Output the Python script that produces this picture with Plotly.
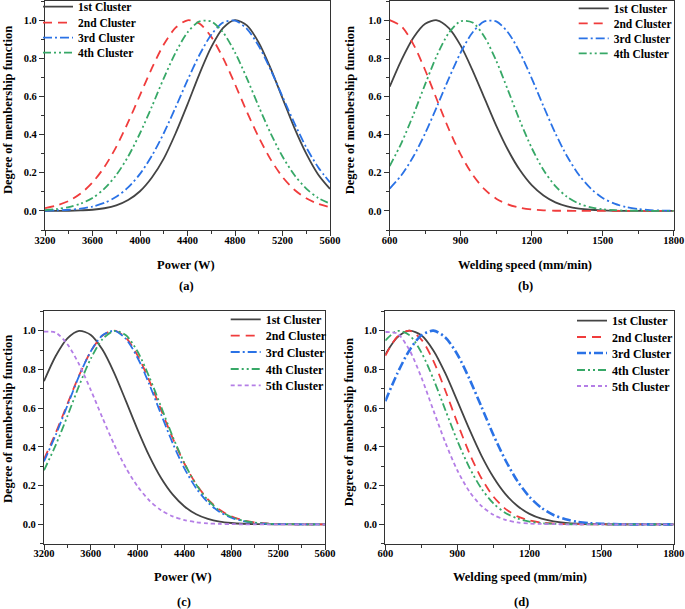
import plotly.graph_objects as go

# ---------------- data ----------------
power_w = [3200, 3300, 3400, 3500, 3600, 3700, 3800, 3900, 4000, 4100, 4200, 4300, 4400,
           4500, 4600, 4700, 4800, 4900, 5000, 5100, 5200, 5300, 5400, 5500, 5600]
speed_mm = [600, 650, 700, 750, 800, 850, 900, 950, 1000, 1050, 1100, 1150, 1200,
            1250, 1300, 1350, 1400, 1450, 1500, 1550, 1600, 1650, 1700, 1750, 1800]

names4 = ["1st Cluster", "2nd Cluster", "3rd Cluster", "4th Cluster"]
names5 = ["1st Cluster", "2nd Cluster", "3rd Cluster", "4th Cluster", "5th Cluster"]

# (a) power, 4 clusters
a1 = [0.000, 0.000, 0.001, 0.003, 0.006, 0.014, 0.029, 0.057, 0.103, 0.175, 0.274, 0.407, 0.558,
      0.717, 0.858, 0.959, 1.000, 0.972, 0.882, 0.747, 0.591, 0.435, 0.300, 0.191, 0.115]
a2 = [0.015, 0.029, 0.052, 0.091, 0.149, 0.230, 0.336, 0.465, 0.607, 0.748, 0.872, 0.960, 0.999,
      0.982, 0.912, 0.801, 0.664, 0.520, 0.386, 0.270, 0.178, 0.111, 0.066, 0.037, 0.019]
a3 = [0.001, 0.003, 0.006, 0.012, 0.023, 0.042, 0.074, 0.123, 0.194, 0.289, 0.407, 0.543, 0.685,
      0.817, 0.923, 0.987, 0.997, 0.954, 0.864, 0.740, 0.599, 0.460, 0.333, 0.229, 0.149]
a4 = [0.004, 0.010, 0.020, 0.038, 0.068, 0.117, 0.188, 0.285, 0.407, 0.547, 0.695, 0.830, 0.935,
      0.993, 0.993, 0.935, 0.830, 0.695, 0.547, 0.407, 0.285, 0.188, 0.117, 0.068, 0.038]

# (b) welding speed, 4 clusters
b1 = [0.651, 0.792, 0.908, 0.981, 0.999, 0.958, 0.866, 0.737, 0.592, 0.447, 0.319, 0.214, 0.135,
      0.081, 0.045, 0.024, 0.012, 0.006, 0.003, 0.001, 0.0, 0.0, 0.0, 0.0, 0.0]
b2 = [1.000, 0.967, 0.873, 0.737, 0.581, 0.428, 0.295, 0.190, 0.114, 0.064, 0.034, 0.017, 0.008,
      0.003, 0.001, 0.001, 0.0, 0.0, 0.0, 0.0, 0.0, 0.0, 0.0, 0.0, 0.0]
b3 = [0.117, 0.188, 0.285, 0.407, 0.548, 0.695, 0.830, 0.935, 0.993, 0.993, 0.935, 0.830, 0.695,
      0.548, 0.407, 0.285, 0.188, 0.117, 0.068, 0.038, 0.020, 0.010, 0.004, 0.002, 0.001]
b4 = [0.235, 0.357, 0.504, 0.664, 0.816, 0.933, 0.994, 0.987, 0.913, 0.787, 0.632, 0.473, 0.330,
      0.214, 0.130, 0.073, 0.038, 0.019, 0.009, 0.004, 0.001, 0.001, 0.0, 0.0, 0.0]

# (c) power, 5 clusters
c1 = [0.739, 0.869, 0.960, 0.999, 0.978, 0.901, 0.781, 0.636, 0.488, 0.352, 0.239, 0.153, 0.092,
      0.052, 0.028, 0.014, 0.007, 0.003, 0.001, 0.001, 0.0, 0.0, 0.0, 0.0, 0.0]
c2 = [0.337, 0.472, 0.622, 0.769, 0.893, 0.975, 1.000, 0.963, 0.871, 0.741, 0.591, 0.444, 0.313,
      0.207, 0.129, 0.075, 0.041, 0.021, 0.010, 0.005, 0.002, 0.001, 0.0, 0.0, 0.0]
c3 = [0.325, 0.461, 0.614, 0.766, 0.894, 0.976, 0.999, 0.957, 0.859, 0.722, 0.568, 0.418, 0.288,
      0.186, 0.113, 0.064, 0.034, 0.017, 0.008, 0.003, 0.001, 0.001, 0.0, 0.0, 0.0]
c4 = [0.279, 0.409, 0.559, 0.716, 0.856, 0.956, 0.999, 0.976, 0.891, 0.760, 0.607, 0.452, 0.315,
      0.205, 0.125, 0.071, 0.038, 0.019, 0.009, 0.004, 0.002, 0.001, 0.0, 0.0, 0.0]
c5 = [0.995, 0.990, 0.930, 0.826, 0.693, 0.549, 0.411, 0.291, 0.195, 0.123, 0.073, 0.041, 0.022,
      0.011, 0.005, 0.002, 0.001, 0.0, 0.0, 0.0, 0.0, 0.0, 0.0, 0.0, 0.0]

# (d) welding speed, 5 clusters
d1 = [0.877, 0.965, 1.000, 0.976, 0.898, 0.779, 0.636, 0.490, 0.355, 0.243, 0.156, 0.095, 0.054,
      0.029, 0.015, 0.007, 0.003, 0.001, 0.001, 0.0, 0.0, 0.0, 0.0, 0.0, 0.0]
d2 = [0.870, 0.969, 1.000, 0.954, 0.844, 0.690, 0.523, 0.367, 0.238, 0.143, 0.080, 0.041, 0.020,
      0.009, 0.004, 0.001, 0.001, 0.0, 0.0, 0.0, 0.0, 0.0, 0.0, 0.0, 0.0]
d3 = [0.636, 0.779, 0.898, 0.976, 1.000, 0.965, 0.877, 0.751, 0.607, 0.461, 0.331, 0.223, 0.142,
      0.085, 0.048, 0.026, 0.013, 0.006, 0.003, 0.001, 0.0, 0.0, 0.0, 0.0, 0.0]
d4 = [0.949, 0.999, 0.977, 0.888, 0.751, 0.590, 0.431, 0.293, 0.185, 0.108, 0.059, 0.030, 0.014,
      0.006, 0.003, 0.001, 0.0, 0.0, 0.0, 0.0, 0.0, 0.0, 0.0, 0.0, 0.0]
d5 = [0.993, 0.985, 0.901, 0.759, 0.589, 0.422, 0.278, 0.169, 0.095, 0.049, 0.023, 0.010, 0.004,
      0.002, 0.001, 0.0, 0.0, 0.0, 0.0, 0.0, 0.0, 0.0, 0.0, 0.0, 0.0]

panel_labels = ["(a)", "(b)", "(c)", "(d)"]
x_titles = ["Power (W)", "Welding speed (mm/min)", "Power (W)", "Welding speed (mm/min)"]
y_title = "Degree of membership function"

# ---------------- styles ----------------
FONT = "Times New Roman, Liberation Serif, serif"
W, H = 685, 609
colors = ["#444444", "#f03c3c", "#2a72e6", "#37a867", "#b47ee6"]
dashes = ["solid", "9px,6px", "9px,3px,2px,3px", "8px,3px,2px,3px,2px,3px", "4px,3px"]
LEG_TEXT_OFFSET = 40  # px from legend box left edge to entry text


def px_x(p):
    return p / W


def px_y(p):
    return 1 - p / H


fig = go.Figure()

panels = [
    ("x", "y", power_w, [a1, a2, a3, a4], names4, [1.8] * 4, 78, [6.7, 22.7, 37.7, 52.7], 11.5),
    ("x2", "y2", speed_mm, [b1, b2, b3, b4], names4, [1.8] * 4, 613.7, [8.3, 23.3, 38.3, 53.3], 11.5),
    ("x3", "y3", power_w, [c1, c2, c3, c4, c5], names5, [1.8] * 5, 265.7,
     [319.3, 335.7, 352, 369, 385.3], 12),
    ("x4", "y4", speed_mm, [d1, d2, d3, d4, d5], names5, [1.8, 1.8, 2.6, 1.8, 1.8], 612,
     [320.7, 337, 353, 370, 386], 12),
]

legends = {}
k = 0
for xa, ya, xs, series, names, widths, lx, rows, fs in panels:
    for i, (ys, nm) in enumerate(zip(series, names)):
        k += 1
        lg = "legend" if k == 1 else f"legend{k}"
        fig.add_trace(go.Scatter(
            x=xs, y=ys, name=nm, mode="lines", xaxis=xa, yaxis=ya, legend=lg,
            line=dict(color=colors[i], dash=dashes[i], width=widths[i], shape="spline", smoothing=0.8),
        ))
        legends[lg] = dict(
            bgcolor="rgba(0,0,0,0)", borderwidth=0, xanchor="left", yanchor="middle",
            x=px_x(lx - LEG_TEXT_OFFSET), y=px_y(rows[i]),
            font=dict(family=FONT, size=fs, color="black", weight="bold"),
        )

axis_common = dict(
    showline=True, linecolor="#333333", linewidth=1.3, mirror=True,
    ticks="outside", ticklen=5, tickwidth=1.2, tickcolor="#333333",
    showgrid=False, zeroline=False,
    tickfont=dict(family=FONT, size=10.5, color="black", weight="bold"),
)


def xaxis(domain, rng, dt, anchor):
    return dict(axis_common, domain=domain, range=rng, tick0=rng[0], dtick=dt, anchor=anchor,
                ticklabelstandoff=-5,
                minor=dict(ticks="outside", ticklen=3, tickwidth=1, tickcolor="#333333",
                           tick0=rng[0], dtick=dt / 2))


def yaxis(domain, anchor):
    return dict(axis_common, domain=domain, range=[-0.1, 1.1], tick0=0, dtick=0.2,
                tickformat=".1f", anchor=anchor,
                minor=dict(ticks="outside", ticklen=3, tickwidth=1, tickcolor="#333333",
                           tick0=0, dtick=0.1))


top_dom = [px_y(230), px_y(1)]
bot_dom = [px_y(543.7), px_y(311.3)]

fig.update_layout(
    width=W, height=H, margin=dict(l=0, r=0, t=0, b=0, autoexpand=False),
    paper_bgcolor="white", plot_bgcolor="white",
    xaxis=xaxis([px_x(45), px_x(330)], [3200, 5600], 400, "y"),
    yaxis=yaxis(top_dom, "x"),
    xaxis2=xaxis([px_x(389.7), px_x(673.7)], [600, 1800], 300, "y2"),
    yaxis2=yaxis(top_dom, "x2"),
    xaxis3=xaxis([px_x(44), px_x(325)], [3200, 5600], 400, "y3"),
    yaxis3=yaxis(bot_dom, "x3"),
    xaxis4=xaxis([px_x(385.3), px_x(673.7)], [600, 1800], 300, "y4"),
    yaxis4=yaxis(bot_dom, "x4"),
    showlegend=True,
    **legends,
)

title_font = dict(family=FONT, size=12.5, color="black", weight="bold")
ann = []
for (cx, ty, ly), xt, pl in zip(
        [(186, 265, 286), (524.5, 265, 286), (183, 577, 602), (520, 577, 602)],
        x_titles, panel_labels):
    ann.append(dict(x=px_x(cx), y=px_y(ty), xref="paper", yref="paper", text=xt,
                    showarrow=False, font=title_font, xanchor="center", yanchor="middle"))
    ann.append(dict(x=px_x(cx + 1), y=px_y(ly), xref="paper", yref="paper", text=pl,
                    showarrow=False, font=title_font, xanchor="center", yanchor="middle"))
for cx, cy in [(8, 110), (350.3, 110), (8, 419), (349.3, 422)]:
    ann.append(dict(x=px_x(cx), y=px_y(cy), xref="paper", yref="paper", text=y_title,
                    textangle=-90, showarrow=False, font=title_font,
                    xanchor="center", yanchor="middle"))
fig.update_layout(annotations=ann)

# page body has a default 8px margin; remove it so the figure sits at the window origin
fig.write_html("out.html", config={"displayModeBar": False},
               post_script="document.body.style.margin='0px';")
